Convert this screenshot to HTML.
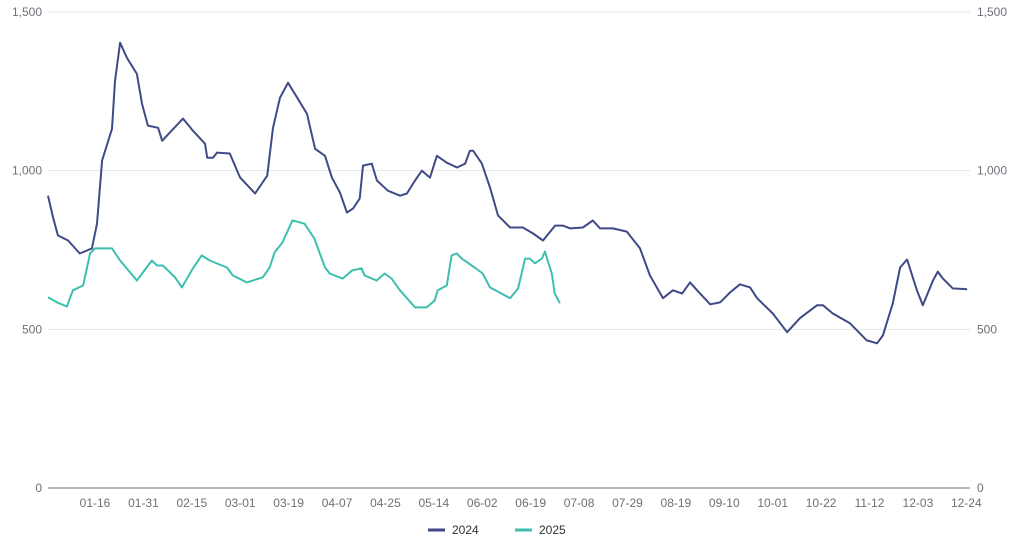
<!DOCTYPE html>
<html><head><meta charset="utf-8"><style>
body{margin:0;background:#fff;font-family:"Liberation Sans",sans-serif}
svg text{font-family:"Liberation Sans",sans-serif;font-size:12px;fill:#6e7079}
</style></head><body>
<svg id="chart" width="1021" height="543" xmlns="http://www.w3.org/2000/svg"></svg>
<script>
const tickLabels=["01-16","01-31","02-15","03-01","03-19","04-07","04-25","05-14","06-02","06-19","07-08","07-29","08-19","09-10","10-01","10-22","11-12","12-03","12-24"];
const yTicks=[0,500,1000,1500];
const days2024=[0,1.4,2.7,5.5,8.7,12,13.4,14.8,17.5,18.3,19.7,21.6,24.3,25.7,27.3,30.1,31.2,33.3,36.9,39.6,42.9,43.5,45.1,46.2,49.7,52.5,56.6,59.9,61.5,63.4,65.6,68.1,70.8,73,75.7,77.6,79.8,81.7,83.4,85.2,86.1,88.5,89.9,92.9,96.2,98.1,100.3,102.2,104.4,106.3,109,111.8,114,115.3,116.2,118.6,120.8,123,126.3,129.8,132.6,135.3,138.6,140.7,142.7,146.2,148.9,150.9,154.4,158.2,161.8,164.5,168.1,170.8,173.3,175.5,177.4,181,183.7,186.4,189.1,191.9,193.8,198.1,202,205.5,210.2,211.8,214.5,219.2,223.8,226.6,228.2,230.9,232.9,234.8,237.5,239.1,241.9,243.2,244.6,247.3,251.2];
const values2024=[921,852,796,780,739,755,833,1032,1132,1283,1403,1355,1305,1211,1142,1135,1094,1120,1164,1126,1085,1041,1041,1057,1054,978,928,984,1135,1230,1277,1230,1179,1069,1047,978,931,868,881,912,1016,1022,969,937,921,928,969,1000,978,1047,1025,1010,1022,1063,1063,1022,947,859,821,821,802,780,827,827,818,821,843,818,818,808,755,670,598,623,613,648,623,579,585,616,642,632,598,550,491,535,576,576,550,519,465,456,481,582,695,720,623,576,654,682,660,629,626];
const days2025=[0,2.5,5.2,6.8,9.6,11.5,12.8,17.5,19.7,24.3,28.4,29.8,31.4,34.7,36.6,39.6,42,44.2,48.9,50.5,54.3,58.7,60.6,61.9,64.1,66.8,70.1,72.8,75.7,77,80.5,83.2,85.7,86.5,89.8,92,93.9,96.2,100.3,103.5,105.7,106.5,109,110.3,111.7,113.1,116.6,118.8,120.8,126.3,128.5,130.4,131.7,133.1,135,135.8,137.7,138.5,139.9];
const values2025=[601,585,572,623,638,739,755,755,717,654,717,701,701,664,632,692,733,717,695,670,648,664,695,742,774,843,833,786,695,676,660,686,692,670,654,676,660,623,569,569,591,623,638,733,739,723,695,676,632,598,629,723,723,708,723,745,676,613,582];

const svg=document.getElementById('chart');
const NS='http://www.w3.org/2000/svg';
const X0=48,X1=970,Y0=488,Y1=12,DMAX=252,VMAX=1500;
const xs=d=>X0+(X1-X0)*d/DMAX;
const ys=v=>Y0-(Y0-Y1)*v/VMAX;
function mk(tag,attrs,parent){const e=document.createElementNS(NS,tag);for(const k in attrs)e.setAttribute(k,attrs[k]);(parent||svg).appendChild(e);return e;}

yTicks.forEach(t=>{
  const l=mk('line',{x1:X0,x2:X1,y1:ys(t),y2:ys(t),stroke:t===0?'#6e7079':'#e6e6e6','stroke-width':1});
  
  
  const lab=t.toLocaleString('en-US');
  const a=mk('text',{x:42,y:ys(t)+4,'text-anchor':'end'});a.textContent=lab;
  
  
  const b=mk('text',{x:977,y:ys(t)+4,'text-anchor':'start'});b.textContent=lab;
  
  
});
tickLabels.forEach((s,i)=>{
  const d=12.85+13.23*i;
  const t=mk('text',{x:xs(d),y:507,'text-anchor':'middle'});t.textContent=s;
  
  
});
function series(days,vals,color,name){
  const p=days.map((d,i)=>(i?'L':'M')+xs(d).toFixed(1)+','+ys(vals[i]).toFixed(1)).join('');
  const e=mk('path',{d:p,fill:'none',stroke:color,'stroke-width':2,'stroke-linejoin':'round'});
  
  
}
series(days2024,values2024,'#3f4a86','line-2024');
series(days2025,values2025,'#3dbfae','line-2025');

[['2024','#3f4a86',428],['2025','#3dbfae',515]].forEach(([n,c,x])=>{
  const g=mk('g',{});
  
  
  mk('line',{x1:x,x2:x+17,y1:530,y2:530,stroke:c,'stroke-width':3},g);
  const t=mk('text',{x:x+24,y:534,style:'fill:#333'},g);t.textContent=n;
});
</script>
</body></html>
